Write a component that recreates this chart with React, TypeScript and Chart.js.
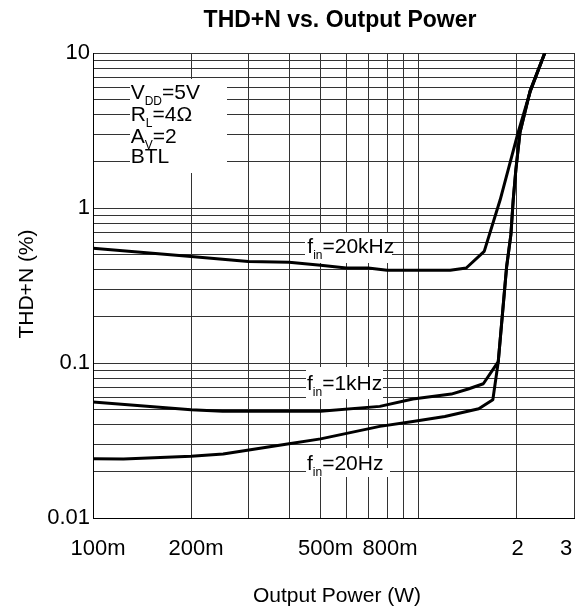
import React, { useEffect, useRef } from 'react';
import { Chart, registerables } from 'chart.js';

Chart.register(...registerables);

const FONT = '"Liberation Sans", Arial, Helvetica, sans-serif';

// ---- Data ----
const xGridValues = [0.1, 0.2, 0.3, 0.4, 0.5, 0.6, 0.7, 0.8, 0.9, 1, 2, 3];
const yGridValues = [
  0.01, 0.02, 0.03, 0.04, 0.05, 0.06, 0.07, 0.08, 0.09,
  0.1, 0.2, 0.3, 0.4, 0.5, 0.6, 0.7, 0.8, 0.9,
  1, 2, 3, 4, 5, 6, 7, 8, 9, 10,
];
const xTickLabelValues = [0.1, 0.2, 0.5, 0.8, 2, 3];
const xTickLabels = ['100m', '200m', '500m', '800m', '2', '3'];
const xTickLabelNudge = [5, 5, 5, 3, 1, -8];
const yTickLabelValues = [0.01, 0.1, 1, 10];
const yTickLabels = ['0.01', '0.1', '1', '10'];

const power20k = [0.1, 0.2, 0.3, 0.4, 0.5, 0.6, 0.7, 0.8, 1.0, 1.25, 1.4, 1.59, 1.78, 2.02, 2.2, 2.44];
const thd20k = [0.55, 0.487, 0.452, 0.446, 0.427, 0.41, 0.41, 0.397, 0.397, 0.397, 0.41, 0.525, 1.13, 3.06, 5.6, 10];

const power1k = [0.1, 0.2, 0.25, 0.5, 0.76, 0.96, 1.26, 1.42, 1.58, 1.756, 1.863, 1.92, 1.952, 1.989, 2.047, 2.2, 2.44];
const thd1k = [0.056, 0.05, 0.0488, 0.0488, 0.0525, 0.0586, 0.063, 0.068, 0.0735, 0.102, 0.418, 0.673, 1.13, 1.77, 3.06, 5.7, 10];

const power20 = [0.1, 0.124, 0.2, 0.251, 0.4, 0.5, 0.76, 0.96, 1.204, 1.53, 1.69, 1.756, 1.863, 1.92, 1.952, 1.989, 2.047, 2.2, 2.44];
const thd20 = [0.0241, 0.024, 0.025, 0.0259, 0.0301, 0.0324, 0.039, 0.042, 0.0452, 0.0507, 0.058, 0.102, 0.418, 0.673, 1.13, 1.77, 3.06, 5.7, 10];

const toPoints = (xs: number[], ys: number[]) => xs.map((x, i) => ({ x, y: ys[i] }));

type Part = { t: string; sub?: boolean };

function drawRich(ctx: CanvasRenderingContext2D, x: number, y: number, parts: Part[]) {
  let cx = x;
  ctx.textAlign = 'left';
  ctx.textBaseline = 'alphabetic';
  for (const p of parts) {
    if (p.sub) {
      ctx.font = `12px ${FONT}`;
      ctx.fillText(p.t, cx, y + 6);
    } else {
      ctx.font = `21px ${FONT}`;
      ctx.fillText(p.t, cx, y);
    }
    cx += ctx.measureText(p.t).width;
  }
}

const textPlugin = {
  id: 'textPlugin',
  beforeDatasetsDraw(chart: any) {
    const ctx: CanvasRenderingContext2D = chart.ctx;
    ctx.save();
    ctx.fillStyle = '#fff';
    ctx.fillRect(130, 79, 97, 94);
    ctx.fillRect(305, 233, 87, 30);
    ctx.fillRect(306, 367, 77, 32);
    ctx.fillRect(306, 448, 84, 29);
    ctx.fillStyle = '#000';
    drawRich(ctx, 130.7, 99.3, [{ t: 'V' }, { t: 'DD', sub: true }, { t: '=5V' }]);
    drawRich(ctx, 130.7, 121, [{ t: 'R' }, { t: 'L', sub: true }, { t: '=4Ω' }]);
    drawRich(ctx, 130.7, 142.7, [{ t: 'A' }, { t: 'V', sub: true }, { t: '=2' }]);
    drawRich(ctx, 130.7, 162.7, [{ t: 'BTL' }]);
    drawRich(ctx, 307.3, 252.7, [{ t: 'f' }, { t: 'in', sub: true }, { t: '=20kHz' }]);
    drawRich(ctx, 307, 390, [{ t: 'f' }, { t: 'in', sub: true }, { t: '=1kHz' }]);
    drawRich(ctx, 307, 470, [{ t: 'f' }, { t: 'in', sub: true }, { t: '=20Hz' }]);
    ctx.restore();
  },
  afterDraw(chart: any) {
    const ctx: CanvasRenderingContext2D = chart.ctx;
    const xs = chart.scales.x;
    ctx.save();
    ctx.fillStyle = '#000';
    // title
    ctx.font = `bold 23px ${FONT}`;
    ctx.textAlign = 'center';
    ctx.textBaseline = 'alphabetic';
    ctx.fillText('THD+N vs. Output Power', 340, 27);
    // x tick labels
    ctx.font = `22px ${FONT}`;
    xTickLabelValues.forEach((v, i) => {
      ctx.fillText(xTickLabels[i], xs.getPixelForValue(v) + xTickLabelNudge[i], 555);
    });
    // x title
    ctx.font = `21px ${FONT}`;
    ctx.fillText('Output Power (W)', 337, 602);
    // y title
    ctx.translate(33, 284);
    ctx.rotate(-Math.PI / 2);
    ctx.fillText('THD+N (%)', 0, 0);
    ctx.restore();
  },
};

export default function App() {
  const ref = useRef<HTMLCanvasElement>(null);
  useEffect(() => {
    if (!ref.current) return;
    const lineStyle = {
      borderColor: '#000',
      borderWidth: 3,
      pointRadius: 0,
      tension: 0,
      fill: false,
      borderJoinStyle: 'round' as const,
      borderCapStyle: 'round' as const,
    };
    const chart = new Chart(ref.current, {
      type: 'line',
      data: {
        datasets: [
          { label: 'f=20kHz', data: toPoints(power20k, thd20k), ...lineStyle },
          { label: 'f=1kHz', data: toPoints(power1k, thd1k), ...lineStyle },
          { label: 'f=20Hz', data: toPoints(power20, thd20), ...lineStyle },
        ],
      },
      options: {
        animation: false,
        responsive: false,
        maintainAspectRatio: false,
        devicePixelRatio: 1,
        layout: { padding: { top: 53, right: 5, bottom: 0, left: 0 } },
        plugins: {
          legend: { display: false },
          tooltip: { enabled: false },
          title: { display: false },
        },
        scales: {
          x: {
            type: 'logarithmic',
            min: 0.1,
            max: 3,
            afterBuildTicks: (s: any) => {
              s.ticks = xGridValues.map((v) => ({ value: v }));
            },
            afterFit: (s: any) => {
              s.height = 91;
            },
            ticks: { display: false, autoSkip: false },
            grid: { color: '#333', lineWidth: 1, drawTicks: false },
            border: { display: true, color: '#000', width: 1 },
          },
          y: {
            type: 'logarithmic',
            min: 0.01,
            max: 10,
            afterBuildTicks: (s: any) => {
              s.ticks = yGridValues.map((v) => ({ value: v }));
            },
            afterFit: (s: any) => {
              s.width = 93;
            },
            ticks: {
              autoSkip: false,
              padding: 3,
              color: '#000',
              font: { family: FONT, size: 22 },
              callback: (v: any) => {
                const i = yTickLabelValues.findIndex((t) => Math.abs(t - Number(v)) < 1e-9);
                return i >= 0 ? yTickLabels[i] : '';
              },
            },
            grid: { color: '#333', lineWidth: 1, drawTicks: false },
            border: { display: true, color: '#000', width: 1 },
          },
        },
      },
      plugins: [textPlugin],
    });
    return () => chart.destroy();
  }, []);
  return (
    <div style={{ position: 'absolute', left: 0, top: 0, width: 579, height: 609, background: '#fff' }}>
      <canvas ref={ref} width={579} height={609} style={{ display: 'block', width: 579, height: 609 }} />
    </div>
  );
}
